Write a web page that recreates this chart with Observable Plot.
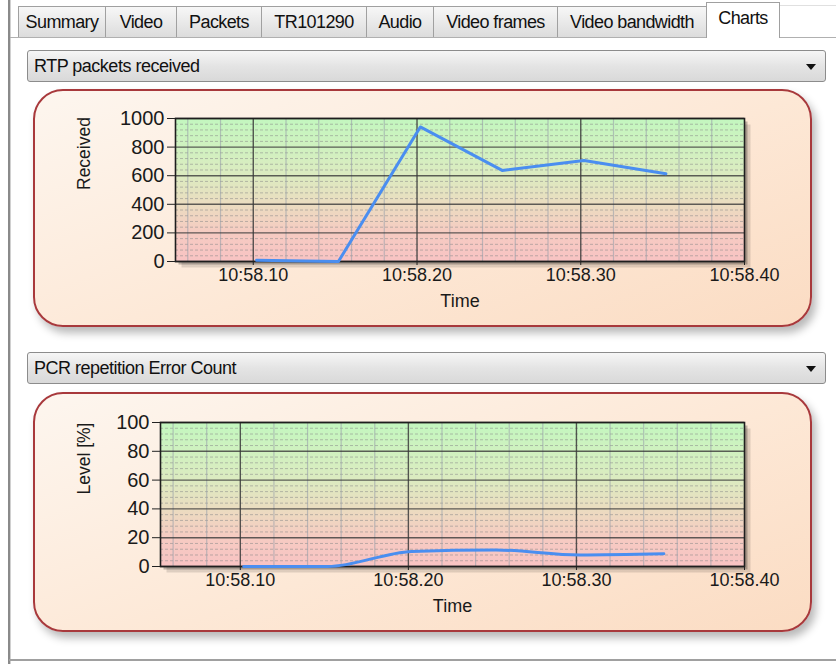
<!DOCTYPE html>
<html><head><meta charset="utf-8">
<script src="https://cdn.jsdelivr.net/npm/d3@7"></script>
<script src="https://cdn.jsdelivr.net/npm/@observablehq/plot@0.6"></script>
<style>
body{margin:0;width:836px;height:664px;background:#fff;position:relative;overflow:hidden;font-family:"Liberation Sans",Arial,sans-serif;color:#111;}
.abs{position:absolute;}
.tab{position:absolute;top:6px;height:31px;border:1px solid #a0a0a0;border-bottom:none;background:linear-gradient(#f7f7f7,#dcdcdc);font-size:18px;letter-spacing:-0.6px;line-height:30px;text-align:center;box-sizing:border-box;}
.tab.sel{top:2px;height:36px;background:#fff;line-height:30px;z-index:2;}
.dd{position:absolute;left:27px;width:799px;height:32px;border:1px solid #8c8c8c;border-radius:3px;background:linear-gradient(#f6f6f6,#e4e4e4 50%,#d9d9d9);box-sizing:border-box;font-size:18px;letter-spacing:-0.5px;line-height:30px;padding-left:6px;}
.dd .arr{position:absolute;right:9px;top:13px;width:0;height:0;border-left:5px solid transparent;border-right:5px solid transparent;border-top:6px solid #111;}
.panel{position:absolute;left:33px;width:779px;border:2px solid #a8393c;border-radius:30px;background:linear-gradient(160deg,#fdf6ef 0%,#fde8d6 55%,#fbdcc3 100%);box-sizing:border-box;box-shadow:4px 6px 8px rgba(0,0,0,0.28);}
.chart{position:absolute;left:0;}
</style></head>
<body>
<svg width="0" height="0" style="position:absolute">
  <defs>
    <linearGradient id="plotGrad" x1="0" y1="0" x2="0" y2="1">
      <stop offset="0" stop-color="#c3f7bf"/>
      <stop offset="0.4" stop-color="#dcebc0"/>
      <stop offset="0.6" stop-color="#ebdcc0"/>
      <stop offset="0.8" stop-color="#f6cbc2"/>
      <stop offset="1" stop-color="#f8c3c3"/>
    </linearGradient>
  </defs>
</svg>
<div class="abs" style="left:8px;top:0;width:2px;height:664px;background:#8a8a8a"></div>
<div class="abs" style="left:10px;top:0;width:1px;height:664px;background:#d0d0d0"></div>
<div class="abs" style="left:9px;top:659px;width:827px;height:2px;background:#a0a0a0"></div>
<div class="abs" style="left:10px;top:37px;width:826px;height:1px;background:#b0b0b0"></div>
<div class="abs" style="left:778px;top:5px;width:58px;height:32px;border-left:1px solid #a0a0a0;border-top:1px solid #e0e0e0;box-sizing:border-box"></div>
<div id="tabs"></div>
<div class="dd" style="top:50px">RTP packets received<div class="arr"></div></div>
<div class="panel" style="top:89px;height:238px"></div>
<div class="dd" style="top:352px">PCR repetition Error Count<div class="arr"></div></div>
<div class="panel" style="top:392px;height:240px"></div>
<div id="c1" class="chart" style="top:90px"></div>
<div id="c2" class="chart" style="top:393px"></div>
<script>
// ---- data ----
const tabLabels = ["Summary","Video","Packets","TR101290","Audio","Video frames","Video bandwidth","Charts"];
const tabEdges = [18,105,176,261,366,433,557,706,779];
const times = [58.102, 58.152, 58.202, 58.252, 58.302, 58.352];
const received = [8, 0, 941, 637, 707, 614];
const level = [0, 0, 10.5, 11.5, 8, 8.8];
const xTicks = [58.10, 58.20, 58.30, 58.40];
const xTickLabels = ["10:58.10","10:58.20","10:58.30","10:58.40"];
const xMinor = [58.06,58.08,58.12,58.14,58.16,58.18,58.22,58.24,58.26,58.28,58.32,58.34,58.36,58.38];
const receivedTicks = [0,200,400,600,800,1000];
const receivedMinor = [40,80,120,160,240,280,320,360,440,480,520,560,640,680,720,760,840,880,920,960];
const levelTicks = [0,20,40,60,80,100];
const levelMinor = [4,8,12,16,24,28,32,36,44,48,52,56,64,68,72,76,84,88,92,96];

// ---- tabs ----
const tabsEl = document.getElementById("tabs");
tabLabels.forEach((t,i)=>{
  const d = document.createElement("div");
  d.className = "tab" + (t==="Charts" ? " sel" : "");
  d.style.left = tabEdges[i] + "px";
  d.style.width = (tabEdges[i+1]-tabEdges[i]+1) + "px";
  d.textContent = t;
  tabsEl.appendChild(d);
});

const fmtX = d => xTickLabels[xTicks.findIndex(t => Math.abs(t-d) < 1e-9)];

function chart({values, yMax, yTicks, yMinor, yLabel, marginLeft, marginTop, marginBottom, labelDx, curve}) {
  const data = times.map((t,i)=>({t, v: values[i]}));
  return Plot.plot({
    width: 836, height: 240,
    marginLeft, marginRight: 92, marginTop, marginBottom,
    style: {background:"transparent", fontFamily:"'Liberation Sans', Arial, sans-serif", color:"#1a1a1a", overflow:"visible"},
    x: {domain:[58.0525, 58.40]},
    y: {domain:[0, yMax]},
    marks: [
      Plot.frame({fill:"#000", fillOpacity:0.12, dx:6, dy:6}),
      Plot.frame({fill:"#000", fillOpacity:0.25, dx:3, dy:3}),
      Plot.frame({fill:"url(#plotGrad)"}),
      Plot.ruleY(yMinor, {stroke:"#8a8a8a", strokeOpacity:0.55, strokeDasharray:"3,2"}),
      Plot.ruleX(xMinor, {stroke:"#9aa0aa", strokeOpacity:0.6, strokeWidth:1.2}),
      Plot.ruleX(xTicks.slice(0,3), {stroke:"#3a3a3a", strokeOpacity:0.85, strokeWidth:1.4}),
      Plot.ruleY(yTicks, {stroke:"#3a3a3a", strokeOpacity:0.8, strokeWidth:1.4}),
      Plot.frame({stroke:"#1e1e1e", strokeWidth:1.6}),
      Plot.axisX({ticks:xTicks, tickFormat:fmtX, tickSize:4, tickPadding:3, label:null, fontSize:18, stroke:"#222"}),
      Plot.axisY({ticks:yTicks, tickFormat:d => String(d), tickSize:8, tickPadding:3, label:null, fontSize:20, stroke:"#222"}),
      Plot.text(["Time"], {frameAnchor:"bottom", dy:45, fontSize:18, fill:"#1a1a1a"}),
      Plot.text([yLabel], {frameAnchor:"left", dx:labelDx, rotate:-90, fontSize:17.5, fill:"#1a1a1a"}),
      Plot.line(data, {x:"t", y:"v", stroke:"#4a8ef0", strokeWidth:3, curve})
    ]
  });
}

document.getElementById("c1").appendChild(chart({
  values: received, yMax:1000, yTicks: receivedTicks, yMinor: receivedMinor, yLabel:"Received",
  marginLeft:175, marginTop:28, marginBottom:69, labelDx:-91, curve:"linear"
}));
document.getElementById("c2").appendChild(chart({
  values: level, yMax:100, yTicks: levelTicks, yMinor: levelMinor, yLabel:"Level [%]",
  marginLeft:160, marginTop:29, marginBottom:67, labelDx:-76, curve:"monotone-x"
}));
</script>
</body></html>
